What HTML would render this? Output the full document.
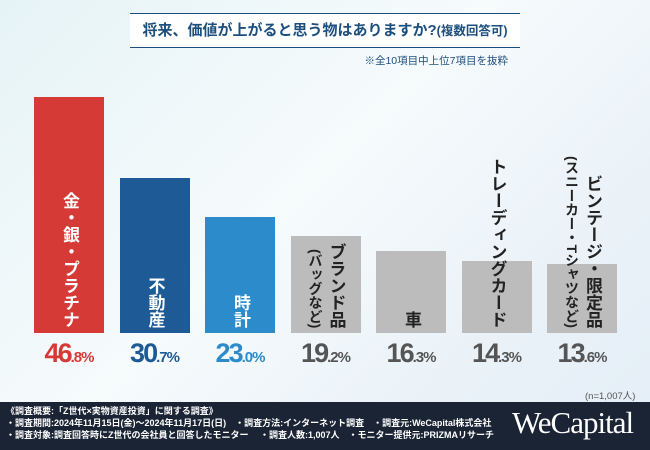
<!DOCTYPE html>
<html><head><meta charset="utf-8">
<style>
body{margin:0;width:650px;height:450px;overflow:hidden;font-family:"Liberation Sans","Noto Sans CJK JP",sans-serif;}
#wrap{position:relative;width:650px;height:450px;background:linear-gradient(135deg,#e6f3f6 0%,#f6fbfc 45%,#eaf2f8 75%,#e4eef7 100%);overflow:hidden}
.abs{position:absolute}
.vt{position:absolute;writing-mode:vertical-rl;text-align:end;font-size:17px;font-weight:bold;line-height:20px;white-space:nowrap}
.vt span{font-size:14px;}
.pct{position:absolute;font-weight:bold;font-size:27px;letter-spacing:-2px;text-align:center;width:90px}
.pct small{font-size:15px;letter-spacing:-1px}
</style></head><body>
<div id="wrap">
<div class="abs" style="left:130px;top:13px;width:390px;height:33px;background:#fff;border-top:1.5px solid #1d4f7e;border-bottom:1.5px solid #1d4f7e;"></div>
<div class="abs" style="left:130px;top:19px;width:390px;text-align:center;font-size:15px;font-weight:bold;color:#1d4f7e;">将来、価値が上がると思う物はありますか?<span style="font-size:12.5px">(複数回答可)</span></div>
<div class="abs" style="left:330px;top:53px;width:178px;text-align:right;font-size:10.5px;color:#1d4f7e;">※全10項目中上位7項目を抜粋</div>
<div class="abs" style="left:585px;top:388px;font-size:9.5px;color:#555;">(n=1,007人)</div>
<div id="bars"></div>
<div class="abs" style="left:0;top:402px;width:650px;height:48px;background:#1b2435;"></div>
<div class="abs" style="left:6px;top:405px;font-size:9px;font-weight:bold;line-height:12px;color:#fff;white-space:nowrap">《調査概要:「Z世代×実物資産投資」に関する調査》<br>・調査期間:2024年11月15日(金)〜2024年11月17日(日)　・調査方法:インターネット調査　・調査元:WeCapital株式会社<br>・調査対象:調査回答時にZ世代の会社員と回答したモニター　 ・調査人数:1,007人　・モニター提供元:PRIZMAリサーチ</div>
<div class="abs" style="left:512px;top:405px;font-family:'Liberation Serif',serif;font-size:31px;color:#fff;letter-spacing:-1px">WeCapital</div>
</div>
<script>
const categories=["金・銀・プラチナ","不動産","時計","ブランド品","車","トレーディングカード","ビンテージ・限定品"];
const subLabels=["","","","(バッグなど)","","","(スニーカー・Tシャツなど)"];
const values=[46.8,30.7,23.0,19.2,16.3,14.3,13.6];
const colors=["#d63a36","#1d5a96","#2b8bcb","#bcbcbc","#bcbcbc","#bcbcbc","#bcbcbc"];
const pctColors=["#d63a36","#1d5a96","#2b8bcb","#555","#555","#555","#555"];
const base=333,scale=5.04,x0=34,pitch=85.5,bw=70;
const y=v=>base-v*scale;
const host=document.getElementById('bars');
values.forEach((v,i)=>{
  const x=x0+i*pitch;
  const b=document.createElement('div');
  b.className='abs';
  
  
  b.style.cssText=`left:${x}px;top:${y(v)}px;width:${bw}px;height:${base-y(v)}px;background:${colors[i]}`;
  host.appendChild(b);
  const t=document.createElement('div');
  t.className='vt';
  
  
  t.innerHTML=categories[i]+(subLabels[i]?'<br><span>'+subLabels[i]+'</span>':'');
  t.style.color=i<3?'#fff':'#222';
  t.style.bottom=(450-328)+'px';
  const w=subLabels[i]?40:20;
  t.style.left=(x+bw/2-w/2)+'px';
  t.style.width=w+'px';
  host.appendChild(t);
  const p=document.createElement('div');
  p.className='pct';
  
  
  const s=v.toFixed(1).split('.');
  p.innerHTML=s[0]+'<small>.'+s[1]+'%</small>';
  p.style.color=pctColors[i];
  p.style.left=(x+bw/2-45)+'px';
  p.style.top='338px';
  host.appendChild(p);
});
</script>
</body></html>
